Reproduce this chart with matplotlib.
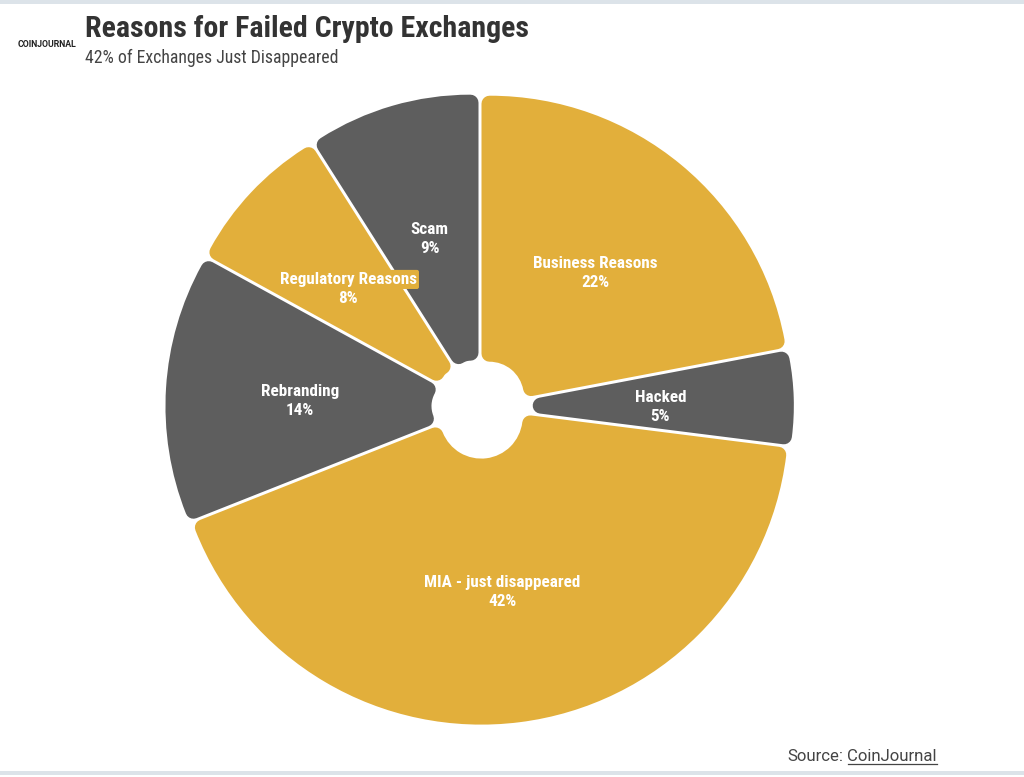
import matplotlib
matplotlib.use('Agg')
import matplotlib.pyplot as plt
import numpy as np
from matplotlib.patches import Rectangle
from matplotlib.lines import Line2D

# ---- data ----
categories = ['Business Reasons', 'Hacked', 'MIA - just disappeared',
              'Rebranding', 'Regulatory Reasons', 'Scam']
values = [22, 5, 42, 14, 8, 9]

title = 'Reasons for Failed Crypto Exchanges'
subtitle = '42% of Exchanges Just Disappeared'
source_label = 'Source:'
source_name = 'CoinJournal'

GOLD = '#E2AF3B'
GRAY = '#5E5E5E'
colors = [GOLD, GRAY, GOLD, GRAY, GOLD, GRAY]

COND = ['Roboto Condensed', 'Liberation Sans Narrow', 'Roboto', 'DejaVu Sans']
REG = ['Roboto', 'DejaVu Sans']

W, H, DPI = 1024, 777, 100
fig = plt.figure(figsize=(W / DPI, H / DPI), dpi=DPI)
fig.patch.set_facecolor('white')
ax = fig.add_axes([0, 0, 1, 1])

cx, cy = 480, H - 407.5
R_out, r_hole, gap, rc = 315, 46, 3, 8
e = rc + gap / 2.0
fracs = np.array(values, dtype=float) / sum(values)
alphas = fracs * 2 * np.pi
shift = e / np.sin(alphas / 2)

wedges, _ = ax.pie(values, colors=colors, startangle=90, counterclock=False,
                   center=(cx, cy), radius=R_out, explode=shift,
                   wedgeprops=dict(linewidth=0))

for w, a, s in zip(wedges, alphas, shift):
    k = (1 + np.cos(a / 2)) / 2
    rho = (R_out - e) - s * k
    rho_in = (r_hole + e) - s * k
    w.set_radius(rho)
    w.set_width(rho - rho_in if rho_in > 1 else None)
    w.set_edgecolor(w.get_facecolor())
    w.set_linewidth(2 * rc * 72 / DPI)
    w.set_joinstyle('round')

ax.set_xlim(0, W)
ax.set_ylim(0, H)
ax.set_aspect('equal')
ax.axis('off')

# labels
r_lab = (R_out + r_hole) / 2
for w, cat, v in zip(wedges, categories, values):
    th = np.deg2rad((w.theta1 + w.theta2) / 2)
    x = cx + r_lab * np.cos(th)
    y = cy + r_lab * np.sin(th) - 5
    kw = dict(ha='center', va='center', color='white', fontsize=12.3,
              fontweight='bold', family=COND)
    bbox = None
    if cat == 'Regulatory Reasons':
        bbox = dict(boxstyle='round,pad=0.12', fc=GOLD, ec='none')
    ax.text(x, y + 9.5, cat, bbox=bbox, **kw)
    ax.text(x, y - 9.5, f'{v}%', **kw)

# titles
fig.text(85 / W, 1 - 37 / H, title, ha='left', va='baseline', fontsize=21.5,
         fontweight='bold', color='#333333', family=COND)
fig.text(85 / W, 1 - 63 / H, subtitle, ha='left', va='baseline', fontsize=12.8,
         color='#444444', family=COND)
fig.text(18 / W, 1 - 47 / H, 'COINJOURNAL', ha='left', va='baseline', fontsize=6.3,
         fontweight='bold', color='#222222', family=REG)

# source with underline
t_cj = fig.text(937 / W, 1 - 761 / H, source_name, ha='right', va='baseline',
                fontsize=12.1, color='#444444', family=REG)
fig.canvas.draw()
bb = t_cj.get_window_extent()
fig.text((bb.x0 - 4) / W, 1 - 761 / H, source_label, ha='right', va='baseline',
         fontsize=12.1, color='#444444', family=REG)
yb = (H - 761 - 3) / H
fig.add_artist(Line2D([bb.x0 / W, bb.x1 / W], [yb, yb], transform=fig.transFigure,
                      color='#444444', linewidth=0.9))

# frame lines
fig.add_artist(Rectangle((0, 1 - 4 / H), 1, 4 / H, transform=fig.transFigure,
                         facecolor='#DCE3E9', edgecolor='none'))
fig.add_artist(Rectangle((0, 2 / H), 1, 4 / H, transform=fig.transFigure,
                         facecolor='#DCE3E9', edgecolor='none'))

fig.savefig('out.png', dpi=DPI, facecolor='white')
